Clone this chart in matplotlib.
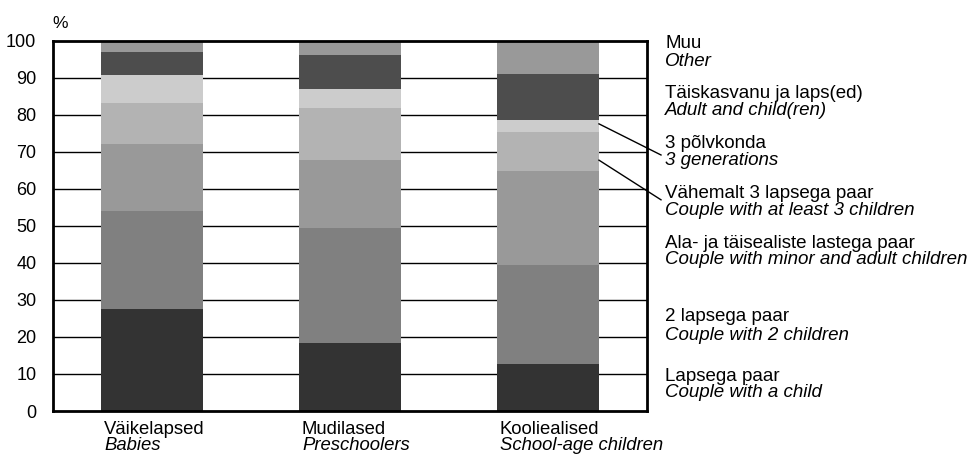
import matplotlib
matplotlib.use("Agg")
import matplotlib.pyplot as plt
import numpy as np

plt.rcParams['font.family'] = ['Liberation Sans', 'DejaVu Sans']

categories_et = ["Väikelapsed", "Mudilased", "Kooliealised"]
categories_en = ["Babies", "Preschoolers", "School-age children"]

series_et = ["Lapsega paar", "2 lapsega paar", "Ala- ja täisealiste lastega paar",
             "Vähemalt 3 lapsega paar", "3 põlvkonda", "Täiskasvanu ja laps(ed)", "Muu"]
series_en = ["Couple with a child", "Couple with 2 children", "Couple with minor and adult children",
             "Couple with at least 3 children", "3 generations", "Adult and child(ren)", "Other"]

couple_one_child = [27.5, 18.4, 12.7]
couple_two_children = [26.5, 31.0, 26.7]
couple_minor_adult = [18.1, 18.3, 25.4]
couple_three_plus = [11.1, 14.1, 10.5]
three_generations = [7.5, 5.1, 3.2]
adult_and_children = [6.3, 9.2, 12.5]
other = [3.0, 3.9, 9.0]

values = [couple_one_child, couple_two_children, couple_minor_adult,
          couple_three_plus, three_generations, adult_and_children, other]
colors = ["#333333", "#808080", "#999999", "#b3b3b3", "#cccccc", "#4d4d4d", "#999999"]

# label y positions (data units) for right-side labels
label_y_et = [9.2, 25.4, 45.3, 58.8, 72.3, 85.8, 99.3]
label_y_en = [4.9, 20.5, 40.8, 54.0, 67.7, 81.0, 94.2]

fig = plt.figure(figsize=(9.75, 4.54), dpi=100)
ax = fig.add_axes([53/975, (454-411)/454, (647-53)/975, (411-40.5)/454])

x = np.arange(len(categories_et))
width = 0.515
bottom = np.zeros(len(x))
for vals, col in zip(values, colors):
    ax.bar(x, vals, width, bottom=bottom, color=col, edgecolor='none', zorder=2)
    bottom += np.array(vals)

ax.set_xlim(-0.5, 2.5)
ax.set_ylim(0, 100)
ax.set_yticks(np.arange(0, 101, 10))
ax.tick_params(axis='y', length=0, labelsize=13, pad=12)
ax.tick_params(axis='x', length=0, labelbottom=False)
for yv in range(10, 100, 10):
    ax.axhline(yv, color='black', lw=1.0, zorder=1)
for s in ax.spines.values():
    s.set_linewidth(2.0)
    s.set_color('black')
    s.set_zorder(3)

# x labels
for xi, et, en in zip(x, categories_et, categories_en):
    ax.text(xi - width/2 + 0.015, -2.6, et, ha='left', va='top', fontsize=13.3)
    ax.text(xi - width/2 + 0.015, -7.0, en, ha='left', va='top', fontsize=13.3, style='italic')

# percent sign
ax.text(0.0 - 0.5 + 7/198, 102.6, "%", ha='center', va='bottom', fontsize=12.5)

# right labels
lx = 2.5 + 18/198
for et, en, ye, yn in zip(series_et, series_en, label_y_et, label_y_en):
    ax.text(lx, ye, et, ha='left', va='center', fontsize=13.5, clip_on=False)
    ax.text(lx, yn, en, ha='left', va='center', fontsize=13.5, style='italic', clip_on=False)

# leader lines
bar_right = 2 + width/2
end_x = 2.5 + 14/198
ax.plot([bar_right, end_x], [77.5, 69.1], color='black', lw=1.0, clip_on=False, zorder=4)
ax.plot([bar_right, end_x], [67.7, 57.0], color='black', lw=1.0, clip_on=False, zorder=4)

fig.savefig("out.png", dpi=100)
